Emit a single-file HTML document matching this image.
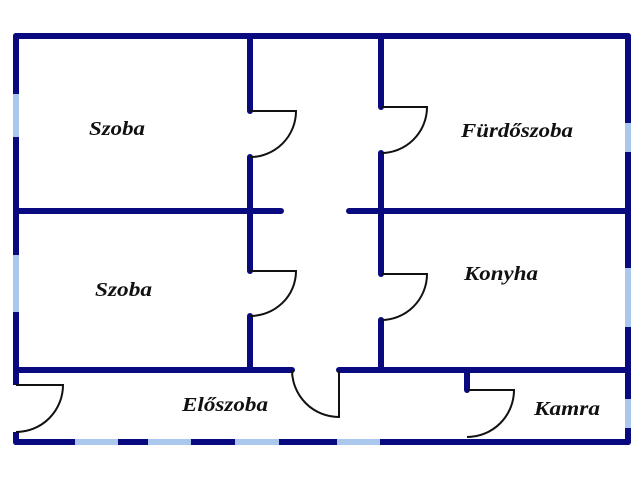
<!DOCTYPE html>
<html><head><meta charset="utf-8"><style>
html,body{margin:0;padding:0;background:#fff;width:640px;height:479px;overflow:hidden}
text{font-family:"Liberation Serif",serif;font-style:italic;font-weight:bold;font-size:20px;fill:#111}
</style></head><body>
<svg width="640" height="479" viewBox="0 0 640 479" xmlns="http://www.w3.org/2000/svg">
<g stroke="#0a0a80" stroke-width="6" stroke-linecap="round" fill="none">
<line x1="16" y1="36" x2="628" y2="36"/>
<line x1="16" y1="36" x2="16" y2="385"/>
<line x1="16" y1="432" x2="16" y2="442"/>
<line x1="628" y1="36" x2="628" y2="442"/>
<line x1="16" y1="442" x2="628" y2="442"/>
<line x1="16" y1="211" x2="281" y2="211"/>
<line x1="349" y1="211" x2="628" y2="211"/>
<line x1="250" y1="36" x2="250" y2="111"/>
<line x1="250" y1="157" x2="250" y2="271"/>
<line x1="250" y1="316" x2="250" y2="370"/>
<line x1="381" y1="36" x2="381" y2="107"/>
<line x1="381" y1="153" x2="381" y2="274"/>
<line x1="381" y1="320" x2="381" y2="370"/>
<line x1="16" y1="370" x2="292" y2="370"/>
<line x1="339" y1="370" x2="628" y2="370"/>
<line x1="467" y1="370" x2="467" y2="390"/>
</g>
<g stroke="#a9c8ec" stroke-width="6">
<line x1="16" y1="94" x2="16" y2="137"/>
<line x1="16" y1="255" x2="16" y2="312"/>
<line x1="628" y1="123" x2="628" y2="152"/>
<line x1="628" y1="268" x2="628" y2="327"/>
<line x1="628" y1="399" x2="628" y2="428"/>
<line x1="75" y1="442" x2="118" y2="442"/>
<line x1="148" y1="442" x2="191" y2="442"/>
<line x1="235" y1="442" x2="279" y2="442"/>
<line x1="337" y1="442" x2="380" y2="442"/>
</g>
<line x1="16" y1="385" x2="16" y2="432" stroke="#fff" stroke-width="7"/>
<g stroke="#111" stroke-width="2" fill="none">
<path d="M250 111 H296 A46 46 0 0 1 250 157"/>
<path d="M381 107 H427 A46 46 0 0 1 381 153"/>
<path d="M250 271 H296 A46 45 0 0 1 250 316"/>
<path d="M381 274 H427 A46 46 0 0 1 381 320"/>
<path d="M16 385 H63 A47 47 0 0 1 16 432"/>
<path d="M339 370 V417 A47 47 0 0 1 292 370"/>
<path d="M467 390 H514 A47 47 0 0 1 467 437"/>
</g>
<text x="89" y="135" textLength="56" lengthAdjust="spacingAndGlyphs">Szoba</text>
<text x="461" y="137" textLength="112" lengthAdjust="spacingAndGlyphs">Fürdőszoba</text>
<text x="95" y="296" textLength="57" lengthAdjust="spacingAndGlyphs">Szoba</text>
<text x="464" y="280" textLength="74" lengthAdjust="spacingAndGlyphs">Konyha</text>
<text x="182" y="411" textLength="86" lengthAdjust="spacingAndGlyphs">Előszoba</text>
<text x="534" y="415" textLength="66" lengthAdjust="spacingAndGlyphs">Kamra</text>
</svg>
</body></html>
